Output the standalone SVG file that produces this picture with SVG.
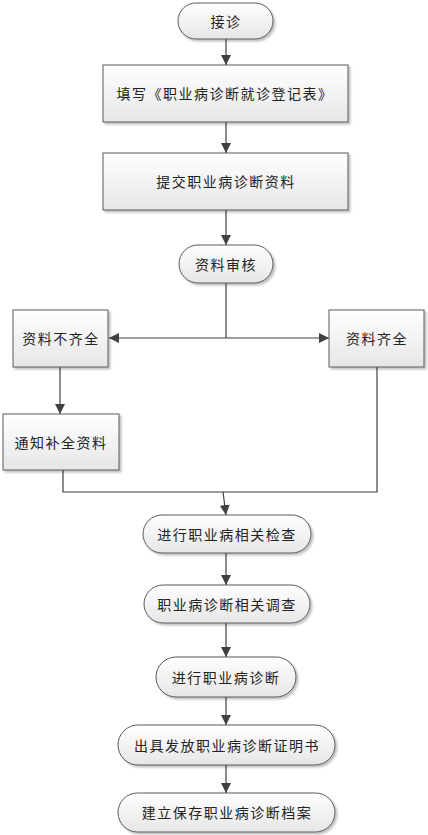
<svg xmlns="http://www.w3.org/2000/svg" width="428" height="835" viewBox="0 0 428 835">
<defs>
<linearGradient id="g" x1="0" y1="0" x2="0" y2="1">
<stop offset="0" stop-color="#ffffff"/>
<stop offset="1" stop-color="#e6e6e6"/>
</linearGradient>
<marker id="arr" viewBox="0 0 10 10" refX="10" refY="5" markerWidth="10" markerHeight="10" markerUnits="userSpaceOnUse" orient="auto">
<path d="M0,0 L10,5 L0,10 z" fill="#404040"/>
</marker>
<filter id="sh" x="-10%" y="-10%" width="130%" height="140%">
<feDropShadow dx="2" dy="2" stdDeviation="1" flood-color="#000" flood-opacity="0.25"/>
</filter>
</defs>
<style>
.n{fill:url(#g);stroke:#5a5a5a;stroke-width:1;filter:url(#sh)}
.t{font-family:"Noto Sans CJK SC","Liberation Sans",sans-serif;font-size:14px;fill:#222;text-anchor:middle;dominant-baseline:central;letter-spacing:1.5px}
.c{fill:none;stroke:#404040;stroke-width:1.2}
.ca{fill:none;stroke:#404040;stroke-width:1.2;marker-end:url(#arr)}
</style>
<rect width="428" height="835" fill="#fff"/>
<g id="connectors">
<path class="ca" d="M226,39 V65"/>
<path class="ca" d="M226,122 V153"/>
<path class="ca" d="M226,210 V245"/>
<path class="c" d="M226,283 V338"/>
<path class="ca" d="M226,338 H109"/>
<path class="ca" d="M226,338 H329"/>
<path class="ca" d="M60,367 V414"/>
<path class="c" d="M63,470 V492 H377 V367"/>
<path class="ca" d="M223,492 L226,515"/>
<path class="ca" d="M226,553 V585"/>
<path class="ca" d="M226,623 V657"/>
<path class="ca" d="M226,697 V725"/>
<path class="ca" d="M226,765 V793"/>
</g>
<g id="n1"><rect class="n" x="178" y="3" width="95" height="36" rx="18"/><text class="t" x="226" y="21">接诊</text></g>
<g id="n2"><rect class="n" x="103" y="65" width="245" height="57"/><text class="t" x="225" y="93">填写《职业病诊断就诊登记表》</text></g>
<g id="n3"><rect class="n" x="103" y="153" width="245" height="57"/><text class="t" x="226" y="181">提交职业病诊断资料</text></g>
<g id="n4"><rect class="n" x="179" y="245" width="94" height="38" rx="19"/><text class="t" x="226" y="264">资料审核</text></g>
<g id="n5"><rect class="n" x="13" y="310" width="95" height="57"/><text class="t" x="61" y="338">资料不齐全</text></g>
<g id="n6"><rect class="n" x="329" y="310" width="95" height="57"/><text class="t" x="377" y="338">资料齐全</text></g>
<g id="n7"><rect class="n" x="3" y="414" width="116" height="56"/><text class="t" x="61" y="442">通知补全资料</text></g>
<g id="n8"><rect class="n" x="143" y="515" width="168" height="38" rx="19"/><text class="t" x="227" y="534">进行职业病相关检查</text></g>
<g id="n9"><rect class="n" x="144" y="585" width="166" height="38" rx="19"/><text class="t" x="227" y="604">职业病诊断相关调查</text></g>
<g id="n10"><rect class="n" x="156" y="657" width="140" height="40" rx="20"/><text class="t" x="226" y="677">进行职业病诊断</text></g>
<g id="n11"><rect class="n" x="118" y="725" width="217" height="40" rx="20"/><text class="t" x="227" y="745">出具发放职业病诊断证明书</text></g>
<g id="n12"><rect class="n" x="118" y="793" width="217" height="39" rx="19.5"/><text class="t" x="227" y="812">建立保存职业病诊断档案</text></g>
</svg>
